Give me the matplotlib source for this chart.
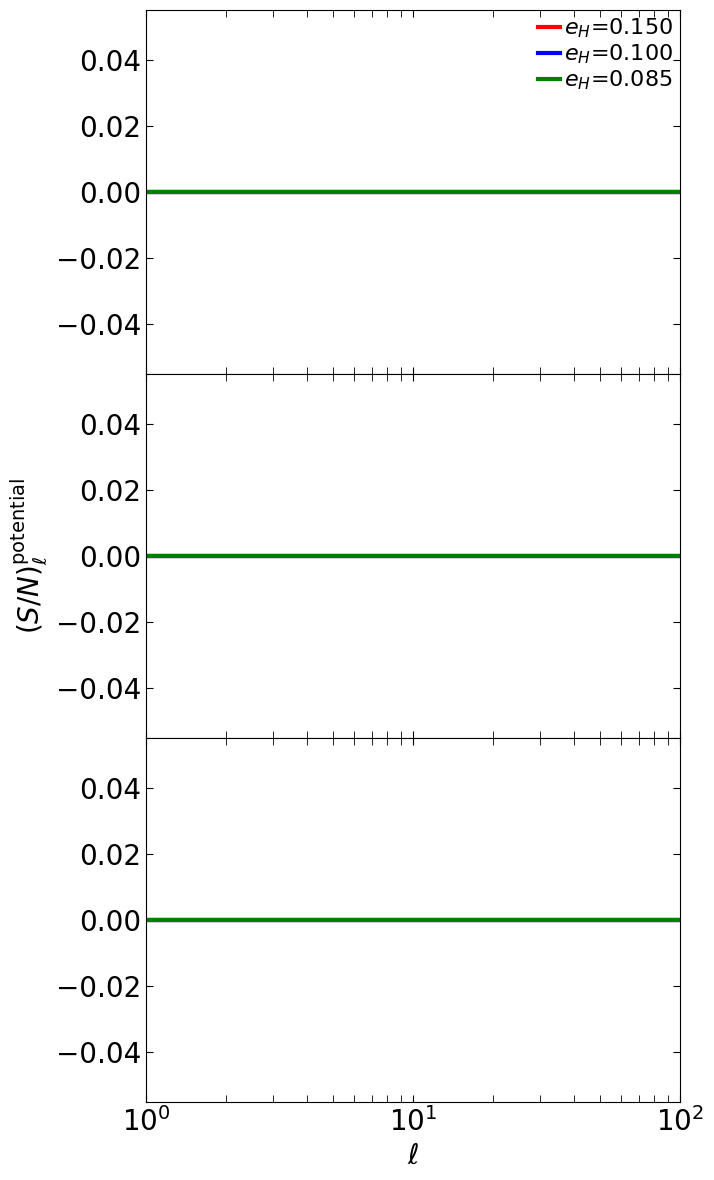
import numpy as np
import matplotlib
matplotlib.use("Agg")
import matplotlib.pyplot as plt

# multipole range and S/N per eccentricity (all identically zero)
ell = [1, 100]
e_H = [0.150, 0.100, 0.085]
colors = ["red", "blue", "green"]
sn_015 = [0.0, 0.0]
sn_010 = [0.0, 0.0]
sn_0085 = [0.0, 0.0]
series = [sn_015, sn_010, sn_0085]

fig, axes = plt.subplots(3, 1, figsize=(7.14, 11.8), dpi=100, sharex=True)
fig.subplots_adjust(left=146/714, right=680/714, top=1-10/1180, bottom=1-1102/1180, hspace=0)

for ax in axes:
    for e, c, y in zip(e_H, colors, series):
        ax.plot(ell, y, color=c, lw=3, label=r"$e_H$=%.3f" % e)
    ax.set_xscale("log")
    ax.set_xlim(1, 100)
    ax.set_ylim(-0.055, 0.055)
    ax.set_yticks([-0.04, -0.02, 0.0, 0.02, 0.04])
    ax.tick_params(which="both", direction="in", top=True, right=True, labelsize=20)
    ax.tick_params(which="major", length=5)
    ax.tick_params(which="minor", length=5)

axes[0].legend(loc="upper right", frameon=False, fontsize=16, handlelength=1.0,
               handletextpad=0.2, labelspacing=0.1, borderaxespad=0.1, borderpad=0.2)
axes[1].set_ylabel(r"$(S/N)_\ell^{\rm potential}$", fontsize=20)
axes[2].set_xlabel(r"$\ell$", fontsize=20)

plt.savefig("out.png")
